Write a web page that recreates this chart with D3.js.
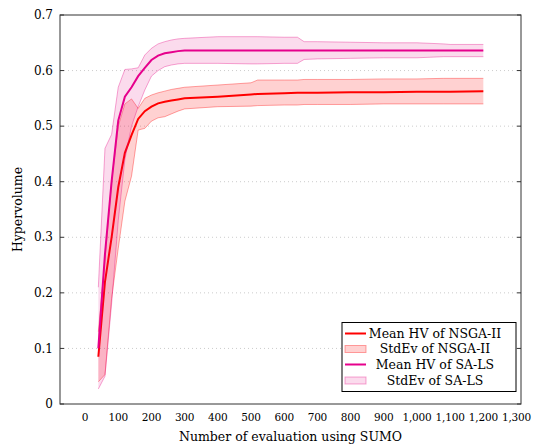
<!DOCTYPE html>
<html><head><meta charset="utf-8">
<script src="https://cdn.jsdelivr.net/npm/d3@7"></script>
<style>body{margin:0;background:#fff}svg{display:block}</style>
</head><body>
<svg id="c" width="537" height="448" font-family="'DejaVu Serif', 'Liberation Serif', serif"></svg>
<script>
const evals = [40,60,80,100,120,140,160,180,200,220,240,260,280,300,400,500,520,600,640,660,700,800,900,1000,1080,1100,1200];
const nsgaMean = [0.085,0.22,0.30,0.39,0.452,0.484,0.513,0.527,0.535,0.541,0.544,0.546,0.548,0.550,0.553,0.557,0.558,0.559,0.560,0.560,0.560,0.561,0.561,0.562,0.562,0.562,0.563];
const nsgaUpper = [0.13,0.26,0.40,0.50,0.54,0.549,0.532,0.55,0.556,0.56,0.563,0.566,0.568,0.570,0.574,0.578,0.583,0.583,0.583,0.584,0.584,0.584,0.585,0.585,0.586,0.586,0.586];
const nsgaLower = [0.04,0.053,0.19,0.28,0.365,0.41,0.493,0.496,0.509,0.515,0.517,0.522,0.527,0.531,0.535,0.536,0.537,0.538,0.538,0.539,0.539,0.539,0.540,0.540,0.540,0.540,0.540];
const salsMean = [0.10,0.27,0.40,0.51,0.553,0.57,0.59,0.605,0.619,0.627,0.631,0.633,0.635,0.636,0.636,0.636,0.636,0.636,0.636,0.636,0.636,0.636,0.636,0.636,0.636,0.636,0.636];
const salsUpper = [0.21,0.46,0.485,0.57,0.602,0.603,0.605,0.628,0.64,0.648,0.652,0.655,0.657,0.658,0.661,0.661,0.661,0.660,0.660,0.652,0.652,0.651,0.650,0.650,0.648,0.647,0.647];
const salsLower = [0.027,0.05,0.18,0.33,0.44,0.50,0.535,0.565,0.59,0.60,0.607,0.61,0.612,0.613,0.613,0.612,0.612,0.613,0.613,0.620,0.621,0.622,0.623,0.623,0.625,0.625,0.625];
const xTicks = [0,100,200,300,400,500,600,700,800,900,1000,1100,1200,1300];
const yTicks = [0,0.1,0.2,0.3,0.4,0.5,0.6,0.7];
const legendLabels = ["Mean HV of NSGA-II","StdEv of NSGA-II","Mean HV of SA-LS","StdEv of SA-LS"];

const svg = d3.select("#c");
const L=60,R=521,T=15,B=404;
const x = d3.scaleLinear().domain([-75.5,1313.5]).range([L,R]);
const y = d3.scaleLinear().domain([0,0.7]).range([B,T]);

svg.append("g").selectAll("line").data(yTicks.filter(v=>v>0&&v<0.7)).join("line")
  .attr("x1",L).attr("x2",R).attr("y1",d=>y(d)).attr("y2",d=>y(d))
  .attr("stroke","#cccccc").attr("stroke-width",1).attr("stroke-dasharray","1,3");

const idx = d3.range(evals.length);
const area = (lo,hi)=>d3.area().x(i=>x(evals[i])).y0(i=>y(lo[i])).y1(i=>y(hi[i]));
const line = (arr)=>d3.line().x(i=>x(evals[i])).y(i=>y(arr[i]));

const redFill="rgba(255,0,0,0.18)", redEdge="rgba(255,0,0,0.35)";
const pinkFill="rgba(230,0,130,0.14)", pinkEdge="rgba(230,0,130,0.35)";
const redC="#ff0000", pinkC="#e6008c";

function band(lo,hi,fill,edge){
  svg.append("path").datum(idx).attr("d",area(lo,hi)).attr("fill",fill).attr("stroke","none");
  svg.append("path").datum(idx).attr("d",line(lo)).attr("fill","none").attr("stroke",edge).attr("stroke-width",1);
  svg.append("path").datum(idx).attr("d",line(hi)).attr("fill","none").attr("stroke",edge).attr("stroke-width",1);
}
band(nsgaLower,nsgaUpper,redFill,redEdge);
svg.append("path").datum(idx).attr("d",line(nsgaMean)).attr("fill","none").attr("stroke",redC).attr("stroke-width",2);
band(salsLower,salsUpper,pinkFill,pinkEdge);
svg.append("path").datum(idx).attr("d",line(salsMean)).attr("fill","none").attr("stroke",pinkC).attr("stroke-width",2);

svg.append("rect").attr("x",L).attr("y",T).attr("width",R-L).attr("height",B-T)
  .attr("fill","none").attr("stroke","#333").attr("stroke-width",1);

const yg = svg.append("g");
yTicks.forEach(v=>{
  yg.append("line").attr("x1",L).attr("x2",L+4).attr("y1",y(v)).attr("y2",y(v)).attr("stroke","#333");
  yg.append("line").attr("x1",R-4).attr("x2",R).attr("y1",y(v)).attr("y2",y(v)).attr("stroke","#333");
  yg.append("text").attr("x",L-7).attr("y",y(v)).attr("dy","0.35em").attr("text-anchor","end")
    .attr("font-size",12).text(v===0?"0":d3.format(".1f")(v));
});
const fmt = d3.format(",");
svg.append("g").selectAll("text").data(xTicks).join("text")
  .attr("x",d=>x(d)).attr("y",B+17).attr("text-anchor","middle").attr("font-size",10.5).attr("letter-spacing","-0.2").text(d=>fmt(d));

svg.append("text").attr("x",(L+R)/2).attr("y",441).attr("text-anchor","middle").attr("font-size",12.5)
  .text("Number of evaluation using SUMO");
svg.append("text").attr("transform",`translate(22,${(T+B)/2}) rotate(-90)`).attr("text-anchor","middle").attr("font-size",12.5)
  .text("Hypervolume");

const lg = svg.append("g");
lg.append("rect").attr("x",342).attr("y",322.5).attr("width",174).attr("height",69)
  .attr("fill","#fff").attr("stroke","#000").attr("stroke-width",1);
const rows=[333.5,349,364.5,380.5];
const kinds=[["line",redC],["band",redFill,redEdge],["line",pinkC],["band",pinkFill,pinkEdge]];
rows.forEach((ry,i)=>{
  const k=kinds[i];
  if(k[0]==="line"){
    lg.append("line").attr("x1",345).attr("x2",366).attr("y1",ry).attr("y2",ry).attr("stroke",k[1]).attr("stroke-width",2);
  } else {
    lg.append("rect").attr("x",345).attr("y",ry-3.5).attr("width",21).attr("height",7).attr("fill",k[1]).attr("stroke",k[2]);
  }
  lg.append("text").attr("x",435).attr("y",ry).attr("dy","0.35em").attr("text-anchor","middle").attr("font-size",12.5).text(legendLabels[i]);
});
</script>
</body></html>
